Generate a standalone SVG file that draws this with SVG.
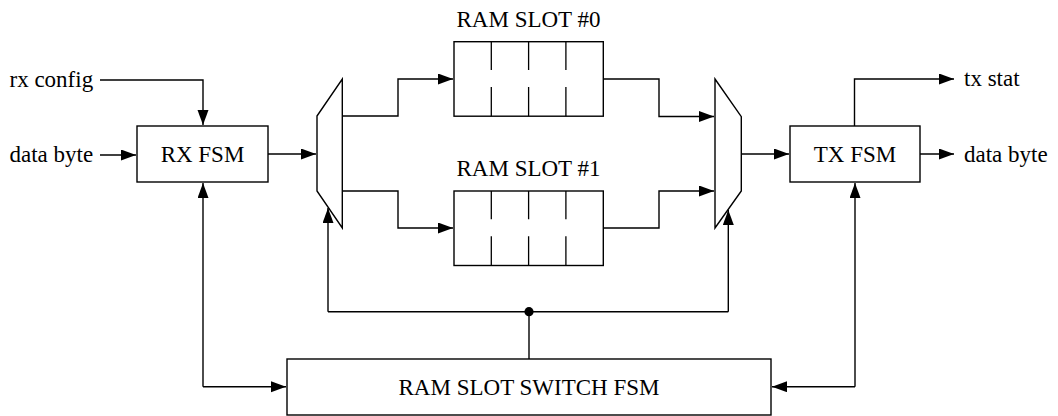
<svg xmlns="http://www.w3.org/2000/svg" width="1058" height="416" viewBox="0 0 1058 416">
<style>
.box{fill:#fff;stroke:#000;stroke-width:1.4}
.div{stroke:#000;stroke-width:1.3;fill:none}
.ln{fill:none;stroke:#000;stroke-width:1.4}
.t{font-family:"Liberation Serif","Times New Roman",serif;font-size:23px;fill:#000}
.c{text-anchor:middle}
</style>
<defs>
<marker id="ah" markerUnits="userSpaceOnUse" markerWidth="16" markerHeight="12" refX="15" refY="5.5" orient="auto">
<path d="M0,0 L15,5.5 L0,11 z" fill="#000"/>
</marker>
</defs>
<rect width="1058" height="416" fill="#fff"/>
<g id="connectors">
<polyline class="ln" points="100,80 203,80 203,125" marker-end="url(#ah)"/>
<polyline class="ln" points="100,155 136,155" marker-end="url(#ah)"/>
<polyline class="ln" points="268,154 316,154" marker-end="url(#ah)"/>
<polyline class="ln" points="342,116 398,116 398,79 453,79" marker-end="url(#ah)"/>
<polyline class="ln" points="342,191 398,191 398,228 453,228" marker-end="url(#ah)"/>
<polyline class="ln" points="603,79 659,79 659,116.5 714,116.5" marker-end="url(#ah)"/>
<polyline class="ln" points="603,228 659,228 659,191 714,191" marker-end="url(#ah)"/>
<polyline class="ln" points="741,154 789,154" marker-end="url(#ah)"/>
<polyline class="ln" points="854.5,126 854.5,79 954,79" marker-end="url(#ah)"/>
<polyline class="ln" points="920,154 954,154" marker-end="url(#ah)"/>
<polyline class="ln" points="203,386.7 203,183" marker-end="url(#ah)"/>
<polyline class="ln" points="203,386.7 286,386.7" marker-end="url(#ah)"/>
<polyline class="ln" points="855,386.7 855,183" marker-end="url(#ah)"/>
<polyline class="ln" points="855,386.7 772,386.7" marker-end="url(#ah)"/>
<polyline class="ln" points="328,311.7 328,208" marker-end="url(#ah)"/>
<polyline class="ln" points="328,311.7 728.3,311.7"/>
<polyline class="ln" points="728.3,311.7 728.3,210" marker-end="url(#ah)"/>
<line class="ln" x1="529" y1="311.7" x2="529" y2="359"/>
<circle cx="529" cy="311.7" r="4.6" fill="#000"/>
</g>
<g id="in-rx-config"><text class="t" x="9.5" y="87.3">rx config</text></g>
<g id="in-data-byte"><text class="t" x="9.5" y="161.7">data byte</text></g>
<g id="rx-fsm">
<rect class="box" x="137" y="126" width="131" height="56"/>
<text class="t c" x="202.5" y="161.7">RX FSM</text>
</g>
<g id="demux">
<polygon class="box" points="317,116 342.3,79 342.3,228 317,191"/>
</g>
<g id="ram-slot-0">
<text class="t c" x="528.5" y="26.5">RAM SLOT #0</text>
<rect class="box" x="454" y="41.7" width="149.3" height="74.5"/>
<path class="div" d="M491.3,41.7V70M491.3,87V116.2M528.6,41.7V70M528.6,87V116.2M565.9,41.7V70M565.9,87V116.2"/>
</g>
<g id="ram-slot-1">
<text class="t c" x="528.5" y="175.8">RAM SLOT #1</text>
<rect class="box" x="454" y="191" width="149.3" height="74.5"/>
<path class="div" d="M491.3,191V219.3M491.3,236.3V265.5M528.6,191V219.3M528.6,236.3V265.5M565.9,191V219.3M565.9,236.3V265.5"/>
</g>
<g id="mux">
<polygon class="box" points="715,79 741.3,116.7 741.3,191 715,228"/>
</g>
<g id="tx-fsm">
<rect class="box" x="790" y="126" width="130" height="56"/>
<text class="t c" x="855" y="161.7">TX FSM</text>
</g>
<g id="out-tx-stat"><text class="t" x="964" y="86">tx stat</text></g>
<g id="out-data-byte"><text class="t" x="964" y="161.7">data byte</text></g>
<g id="switch-fsm">
<rect class="box" x="287" y="359" width="484" height="56"/>
<text class="t c" x="529" y="394.5">RAM SLOT SWITCH FSM</text>
</g>
</svg>
